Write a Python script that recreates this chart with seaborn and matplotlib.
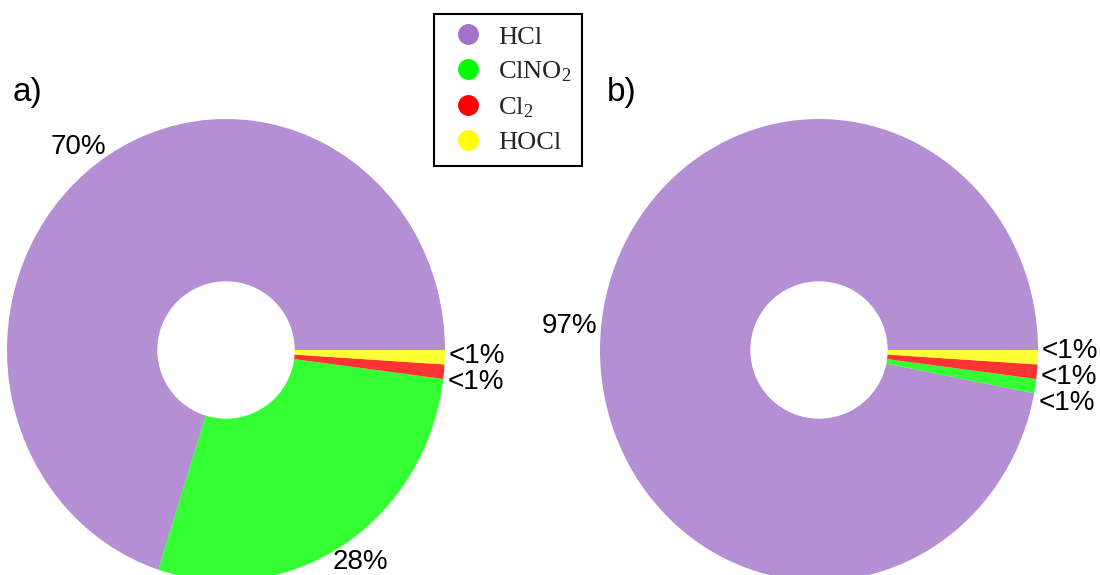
import matplotlib
matplotlib.use("Agg")
import matplotlib.pyplot as plt
from matplotlib.lines import Line2D
from matplotlib.patches import Ellipse
import numpy as np
import seaborn as sns

sns.set_theme(style="white")
plt.rcParams["font.family"] = ["Liberation Sans", "DejaVu Sans"]
plt.rcParams["mathtext.fontset"] = "custom"
plt.rcParams["mathtext.rm"] = "Liberation Serif"
plt.rcParams["mathtext.it"] = "Liberation Serif:italic"

# Chlorine species shares (%)
species = ["HCl", r"ClNO$_2$", r"Cl$_2$", "HOCl"]
share_a = [70, 28, 1, 1]
share_b = [97, 1, 1, 1]
labels_a = ["70%", "28%", "<1%", "<1%"]
labels_b = ["97%", "<1%", "<1%", "<1%"]
panel_names = ["a)", "b)"]
base_colors = ["#A173C9", "#00FF00", "#FF0000", "#FFFF00"]

W, H = 1100, 575
fig = plt.figure(figsize=(W / 100, H / 100), dpi=100)

RX, RY = 219, 231      # outer radius in pixels (x, y)
HOLE = 68              # hole radius in pixels
LAB = 251              # distance of the percentage labels from the centre, pixels


def make_axes(px_left, px_right, cx, cy):
    """Axes spanning [px_left, px_right] horizontally, full height, with the pie
    centred at pixel (cx, cy) measured from the top-left corner."""
    ax = fig.add_axes([px_left / W, 0, (px_right - px_left) / W, 1])
    cyb = H - cy
    ax.set_xlim((px_left - cx) / RX, (px_right - cx) / RX)
    ax.set_ylim((0 - cyb) / RY, (H - cyb) / RY)
    ax.set_autoscale_on(False)
    return ax


def donut(ax, values, labels):
    xl, yl = ax.get_xlim(), ax.get_ylim()
    wedges, _ = ax.pie(values, colors=base_colors, startangle=0, counterclock=True,
                       wedgeprops=dict(linewidth=0, alpha=0.8), normalize=True)
    ax.set_aspect("auto")
    ax.set_xlim(*xl)
    ax.set_ylim(*yl)
    ax.add_patch(Ellipse((0, 0), 2 * HOLE / RX, 2 * HOLE / RY, color="white", zorder=5))

    # label positions at the wedge mid-angles, a fixed pixel distance out
    pos = []
    for w in wedges:
        ang = np.deg2rad((w.theta1 + w.theta2) / 2)
        pos.append([LAB / RX * np.cos(ang), LAB / RY * np.sin(ang)])
    pos = np.array(pos)

    # spread the crowded small-slice labels vertically
    small = [i for i, v in enumerate(values) if v <= 1]
    if len(small) > 1:
        order = sorted(small, key=lambda i: -pos[i, 1])
        gap = 26 / RY
        mid = np.mean(pos[order, 1]) - 3 / RY
        n = len(order)
        for k, i in enumerate(order):
            pos[i, 1] = mid + (n - 1) / 2 * gap - k * gap

    for (x, y), lab in zip(pos, labels):
        ax.text(x, y, lab, ha="center", va="center", fontsize=20, color="black", zorder=6)
    ax.axis("off")


ax_a = make_axes(0, 550, 226, 350)
ax_b = make_axes(560, 1100, 819, 350)
donut(ax_a, share_a, labels_a)
donut(ax_b, share_b, labels_b)

# panel tags
for name, px in zip(panel_names, [13, 607]):
    fig.text(px / W, 1 - 92 / H, name, ha="left", va="center", fontsize=24, color="black")

handles = [Line2D([], [], marker="o", linestyle="none", markersize=14,
                  markerfacecolor=c, markeredgecolor=c) for c in base_colors]
leg = fig.legend(handles, species, loc="upper left",
                 bbox_to_anchor=(434 / W, 1 - 14 / H), borderaxespad=0,
                 frameon=True, fancybox=False, edgecolor="black", framealpha=1,
                 prop={"family": "Liberation Serif", "size": 19},
                 handletextpad=0.25, labelspacing=0.42, borderpad=0.42,
                 handlelength=1.75)
leg.get_frame().set_linewidth(1.5)

fig.savefig("out.png", dpi=100, facecolor="white")
